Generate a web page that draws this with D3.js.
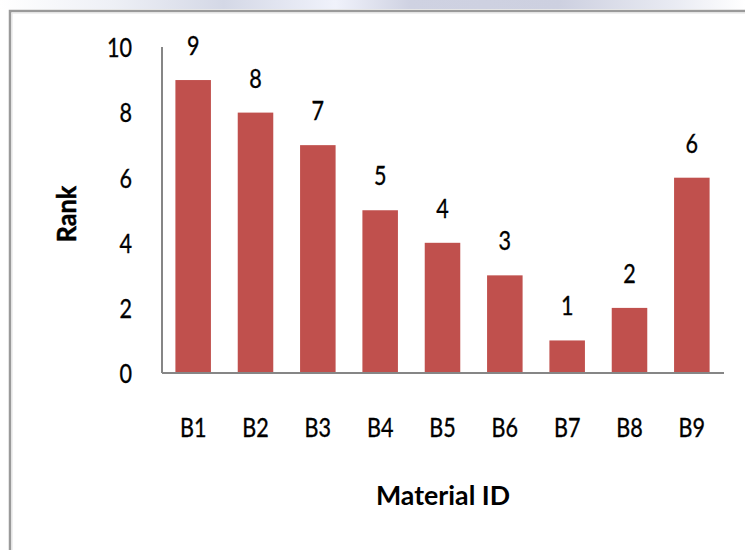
<!DOCTYPE html>
<html><head><meta charset="utf-8">
<script src="https://cdn.jsdelivr.net/npm/d3@7"></script>
<style>body{margin:0;background:#fff}svg{display:block}</style>
</head><body>
<script>
const categories = ["B1","B2","B3","B4","B5","B6","B7","B8","B9"];
const ranks = [9,8,7,5,4,3,1,2,6];
const yTicks = [0,2,4,6,8,10];
const xTitle = "Material ID";
const yTitle = "Rank";

const W = 745, H = 550;
const font = "Lato,'Open Sans',sans-serif";
const SX = 0.83;
const svg = d3.select("body").append("svg").attr("width", W).attr("height", H);

function squeeze(sel, sx) {
  sel.each(function() {
    const t = d3.select(this);
    const x0 = +(t.attr("x") || 0);
    t.attr("x", x0 / sx).attr("transform", `scale(${sx},1)`);
  });
}

const defs = svg.append("defs");
const g1 = defs.append("linearGradient").attr("id","topg").attr("x1","0").attr("x2","1");
[[0,"#ffffff"],[0.15,"#eef0f6"],[0.3,"#d4d8e6"],[0.45,"#f0f2fb"],[0.55,"#cfd2e2"],[0.75,"#cdd0e0"],[0.9,"#e8eaf2"],[1,"#ffffff"]]
  .forEach(([o,c])=>g1.append("stop").attr("offset",o).attr("stop-color",c));
svg.append("rect").attr("x",0).attr("y",0).attr("width",W).attr("height",9).attr("fill","url(#topg)");
svg.append("path").attr("d",`M10,${H} V11 H${W}`).attr("fill","none").attr("stroke","#9a9a9a").attr("stroke-width",2.5);
svg.append("path").attr("d",`M12,${H} V13 H${W}`).attr("fill","none").attr("stroke","#e2e2e2").attr("stroke-width",1);

const x = d3.scaleBand().domain(categories).range([162, 723]).paddingInner(0.43).paddingOuter(0.215);
const y = d3.scaleLinear().domain([0,10]).range([373, 47.5]);

const plot = svg.append("g");
plot.selectAll("rect.bar").data(categories).join("rect").attr("class","bar")
  .attr("x", d=>x(d)).attr("width", x.bandwidth())
  .attr("y", (d,i)=>y(ranks[i])).attr("height",(d,i)=>y(0)-y(ranks[i]))
  .attr("fill","#C0504D");

const yAxis = svg.append("g").attr("transform","translate(162,0)")
  .call(d3.axisLeft(y).tickValues(yTicks).tickSize(0).tickPadding(30).tickFormat(d3.format("d")));
const xAxis = svg.append("g").attr("transform","translate(0,373)")
  .call(d3.axisBottom(x).tickSize(0).tickPadding(0));
[yAxis,xAxis].forEach(a=>{
  a.select(".domain").attr("stroke","#868686").attr("stroke-width",2);
  a.selectAll("text").attr("font-family",font).attr("font-size",26).attr("fill","#000")
    .attr("stroke","#000").attr("stroke-width",0.35);
});
yAxis.selectAll("text").attr("dy","0.36em");
xAxis.selectAll("text").attr("dy",null).attr("y",64);
squeeze(yAxis.selectAll("text"), SX);
squeeze(xAxis.selectAll("text"), SX);
xAxis.select(".domain").attr("d","M162,0H724");
yAxis.select(".domain").attr("d","M0,373V47");

const vals = plot.selectAll("text.val").data(categories).join("text").attr("class","val")
  .attr("x", d=>x(d)+x.bandwidth()/2).attr("y",(d,i)=>y(ranks[i])-25)
  .attr("text-anchor","middle").attr("font-family",font).attr("font-size",26)
  .attr("stroke","#000").attr("stroke-width",0.35)
  .text((d,i)=>ranks[i]);
squeeze(vals, SX);

const xt = svg.append("text").attr("x",443).attr("y",505).attr("text-anchor","middle")
  .attr("font-family",font).attr("font-size",27).attr("font-weight","bold").text(xTitle);
squeeze(xt, 0.99);
svg.append("text").attr("transform","translate(76,214) rotate(-90) scale(0.93,1)").attr("text-anchor","middle")
  .attr("font-family",font).attr("font-size",27).attr("font-weight","bold")
  .attr("stroke","#000").attr("stroke-width",0.5).text(yTitle);
</script>
</body></html>
